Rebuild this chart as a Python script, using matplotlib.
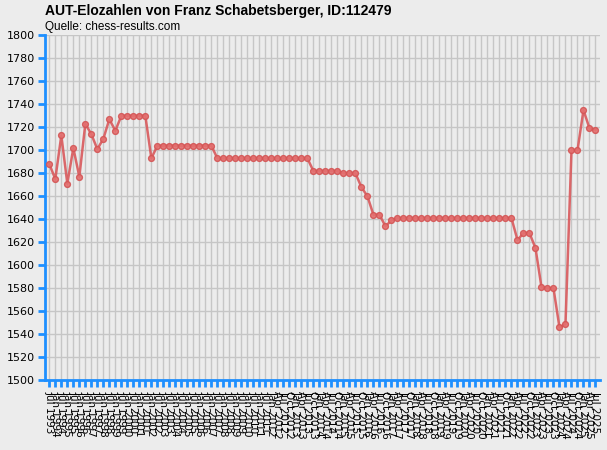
import matplotlib
matplotlib.use("Agg")
import matplotlib.pyplot as plt
import numpy as np

# --- data ---------------------------------------------------------------
months_semi = ["Jan", "Jul"]
months_q = ["Jan", "Apr", "Jul", "Oct"]
labels = []
# semiannual lists Jul 1993 .. Jan 2012
y, m = 1993, 1
while (y, m) <= (2012, 0):
    labels.append(f"{months_semi[m]} {y}")
    m += 1
    if m == 2:
        m = 0
        y += 1
# quarterly lists Apr 2012 .. Jul 2025
y, q = 2012, 1
while (y, q) <= (2025, 2):
    labels.append(f"{months_q[q]} {y}")
    q += 1
    if q == 4:
        q = 0
        y += 1

elo = [1688, 1675, 1713, 1671, 1702, 1677, 1723, 1714, 1701, 1710,
       1727, 1717, 1730, 1730, 1730, 1730, 1730, 1693,
       1704, 1704, 1704, 1704, 1704, 1704, 1704, 1704, 1704, 1704,
       1693, 1693, 1693, 1693, 1693, 1693, 1693, 1693, 1693, 1693,
       1693, 1693, 1693, 1693, 1693, 1693,
       1682, 1682, 1682, 1682, 1682, 1680, 1680, 1680,
       1668, 1660, 1644, 1644, 1634, 1639,
       1641, 1641, 1641, 1641, 1641, 1641, 1641, 1641, 1641, 1641,
       1641, 1641, 1641, 1641, 1641, 1641, 1641, 1641, 1641, 1641,
       1622, 1628, 1628, 1615, 1581, 1580, 1580, 1546, 1549,
       1700, 1700, 1735, 1719, 1718]

labels = labels[:len(elo)]
yticks = list(range(1500, 1801, 20))

# --- figure -------------------------------------------------------------
bg = "#ececec"
blue = "#1e8fff"
fig = plt.figure(figsize=(6.07, 4.5), dpi=100, facecolor=bg)
ax = fig.add_axes([45/607, 1-380.3/450, 555/607, (380.3-35.3)/450])
ax.set_facecolor(bg)

x = np.arange(len(elo))
ax.plot(x, elo, color="#d9595c", lw=1.8, alpha=0.9, marker="o", ms=4.2,
        mfc="#e47070", mec="#d45555", mew=1, zorder=3)

ax.set_xlim(-0.72, len(elo) - 0.25)
ax.set_ylim(1500, 1800)
ax.set_yticks(yticks)
ax.set_yticklabels([str(v) for v in yticks], fontsize=8)
ax.set_xticks(x)
ax.set_xticklabels(labels, rotation=-90, fontsize=7.5, va="top", ha="center")

ax.grid(True, color="#c6c6c6", lw=1)
ax.set_axisbelow(True)
for s in ["top", "right"]:
    ax.spines[s].set_visible(False)
for s in ["left", "bottom"]:
    ax.spines[s].set_color(blue)
    ax.spines[s].set_linewidth(2)
ax.tick_params(axis="both", colors=blue, width=2, length=5, labelcolor="black")
ax.tick_params(axis="y", pad=2)
ax.tick_params(axis="x", pad=3)

fig.text(45/607, 1-11/450, "AUT-Elozahlen von Franz Schabetsberger, ID:112479",
         fontsize=10, fontweight="bold", family="Liberation Sans", va="center", ha="left")
fig.text(45/607, 1-27/450, "Quelle: chess-results.com",
         fontsize=8.5, family="Liberation Sans", va="center", ha="left")

fig.savefig("out.png", dpi=100, facecolor=bg)
